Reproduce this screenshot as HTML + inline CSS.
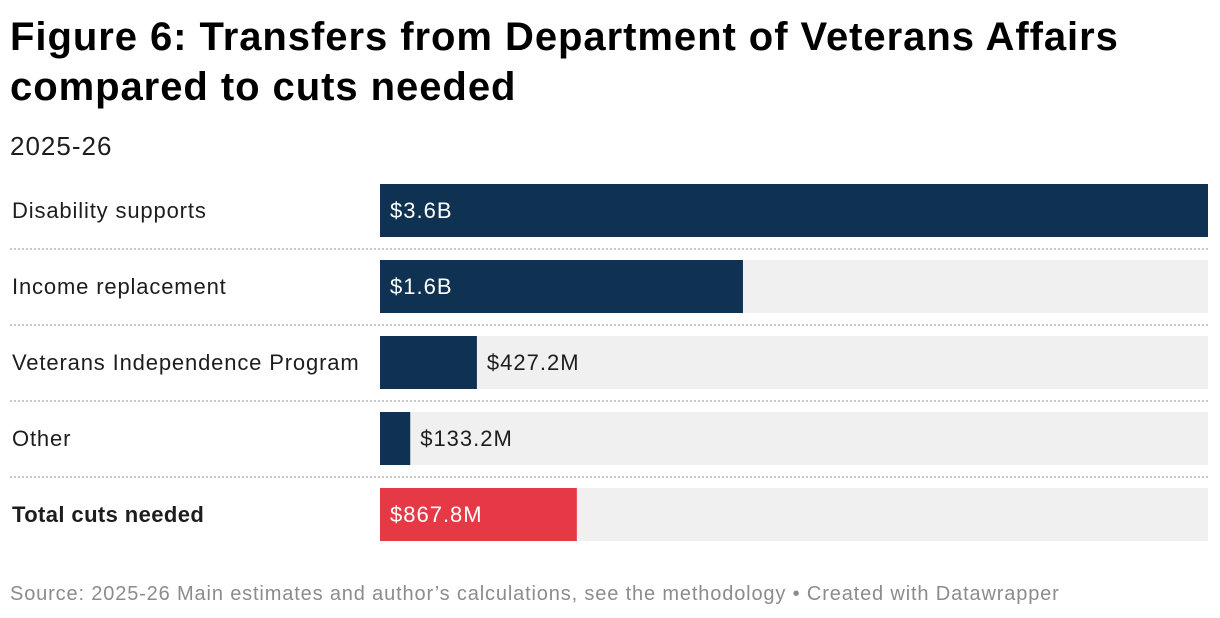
<!DOCTYPE html>
<html><head><meta charset="utf-8"><style>
body{margin:0;width:1220px;height:618px;background:#fff;font-family:"Liberation Sans",sans-serif;position:relative;overflow:hidden;color:#1d1d1d}
#title{position:absolute;left:10px;top:12px;font-size:40px;font-weight:bold;line-height:50px;margin:0;color:#000;letter-spacing:0.95px;width:1200px}
#sub{position:absolute;left:10px;top:131px;font-size:26px;color:#1d1d1d;letter-spacing:1px}
#src{position:absolute;left:10px;top:583px;font-size:20px;color:#8c8c8c;letter-spacing:0.85px;white-space:nowrap}
</style></head><body>
<h1 id="title">Figure 6: Transfers from Department of Veterans Affairs compared to cuts needed</h1>
<div id="sub">2025-26</div>
<svg id="chart" width="1220" height="618" style="position:absolute;left:0;top:0"></svg>
<div id="src">Source: 2025-26 Main estimates and author’s calculations, see the methodology • Created with Datawrapper</div>
<script>
const categories=["Disability supports","Income replacement","Veterans Independence Program","Other","Total cuts needed"];
const values=[3.65,1.6,0.4272,0.1332,0.8678];
const valueLabels=["$3.6B","$1.6B","$427.2M","$133.2M","$867.8M"];
const maxValue=3.65;
const NS="http://www.w3.org/2000/svg";
const svg=document.getElementById('chart');
const x0=380,x1=1208,top0=184,pitch=76,bh=53;
const xs=v=>x0+(v/maxValue)*(x1-x0);
function mk(t,a){const e=document.createElementNS(NS,t);for(const k in a)e.setAttribute(k,a[k]);svg.appendChild(e);return e;}
categories.forEach((c,i)=>{
  const y=top0+i*pitch;
  const bg=mk('rect',{x:x0,y:y,width:x1-x0,height:bh,fill:'#f0f0f0'});
  
  
  const last=i===categories.length-1;
  const w=xs(values[i])-x0;
  const b=mk('rect',{x:x0,y:y,width:w,height:bh,fill:last?'#e63946':'#0f3152'});
  
  
  const l=mk('text',{x:12,y:y+34,'font-size':22,fill:'#1d1d1d','font-weight':last?'bold':'normal','letter-spacing':last?0.4:0.85});
  l.textContent=c;
  
  
  const inside=w>150;
  const v=mk('text',{x:inside?x0+10:x0+w+10,y:y+34,'font-size':22,fill:inside?'#fff':'#1d1d1d','letter-spacing':1});
  v.textContent=valueLabels[i];
  
  
  if(!last){
    const s=mk('line',{x1:10,x2:1208,y1:y+65,y2:y+65,stroke:'#c8c8c8','stroke-width':2,'stroke-dasharray':'2,2'});
    
    
  }
});
</script>
</body></html>
